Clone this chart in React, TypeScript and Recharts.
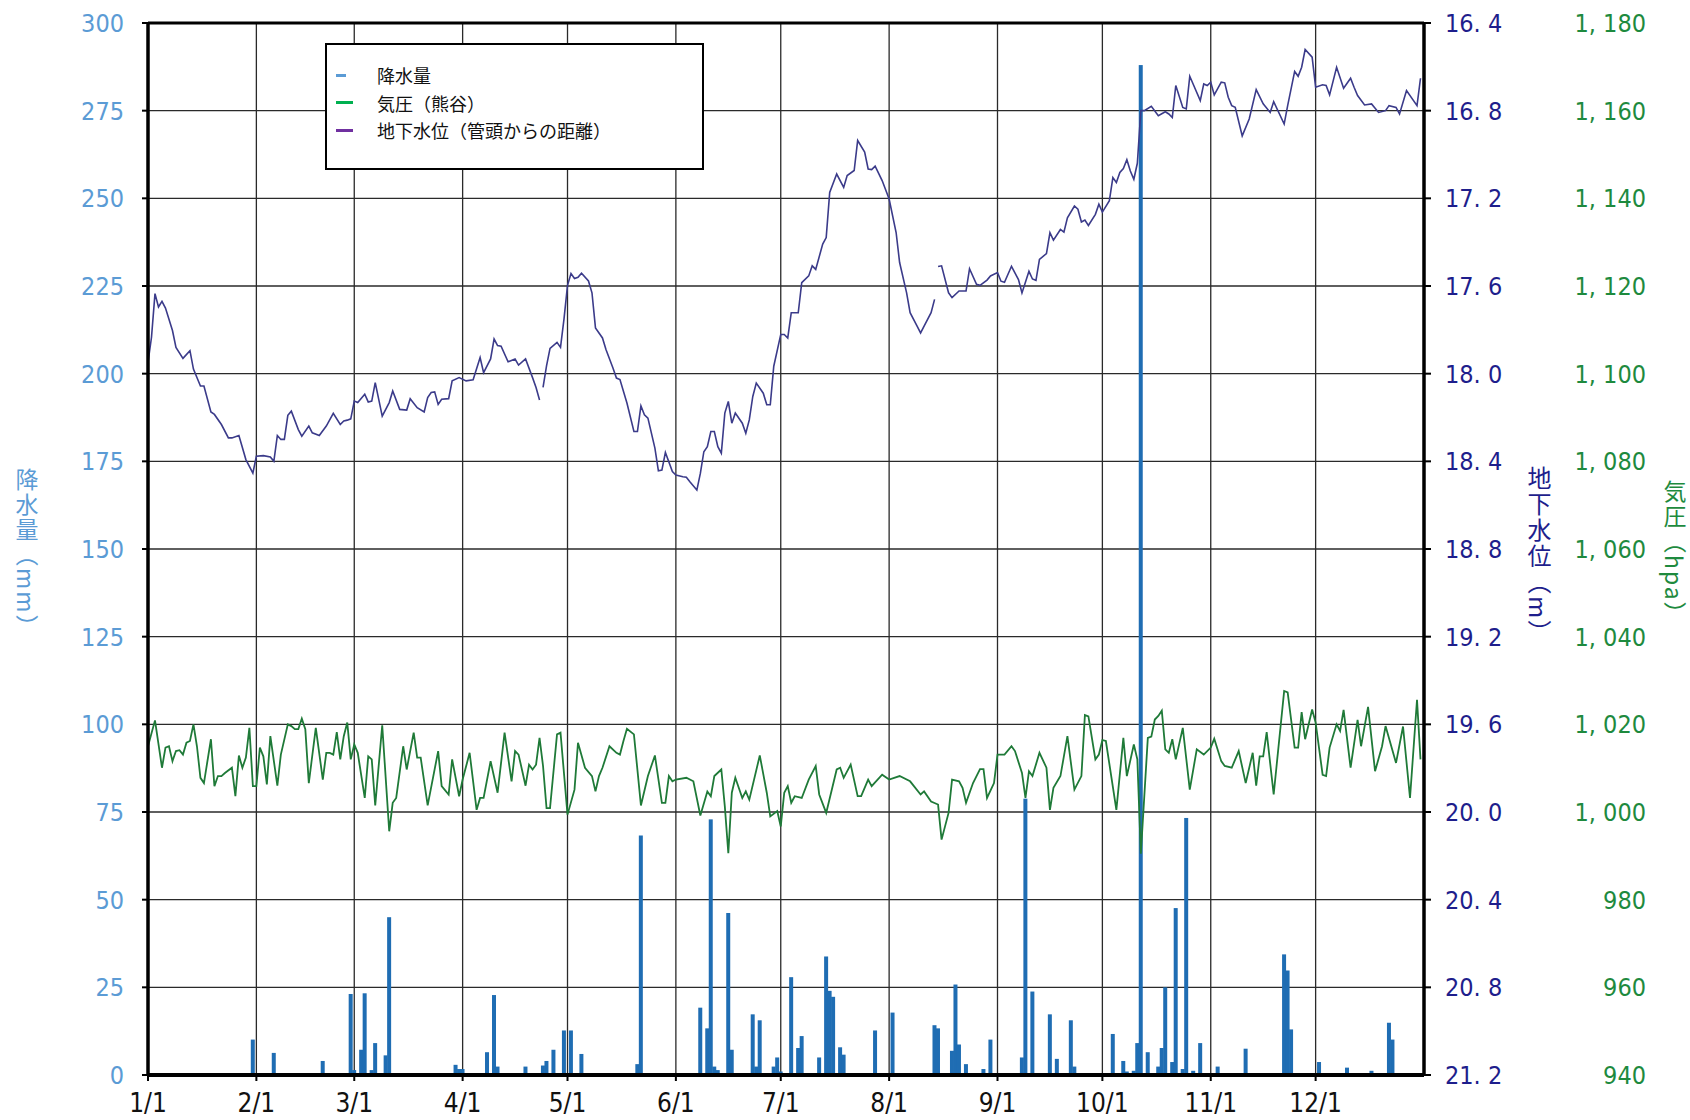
import React from "react";
import {
  ComposedChart,
  Bar,
  Line,
  XAxis,
  YAxis,
  CartesianGrid,
  ReferenceLine
} from "recharts";

// x axis = day of year (0 = 1/1)
const monthTicks = [0, 31, 59, 90, 120, 151, 181, 212, 243, 273, 304, 334];
const monthLabels = ["1/1", "2/1", "3/1", "4/1", "5/1", "6/1", "7/1", "8/1", "9/1", "10/1", "11/1", "12/1"];

const rainTicks = [0, 25, 50, 75, 100, 125, 150, 175, 200, 225, 250, 275, 300];
const levelTicks = [16.4, 16.8, 17.2, 17.6, 18.0, 18.4, 18.8, 19.2, 19.6, 20.0, 20.4, 20.8, 21.2];
const pressureTicks = [940, 960, 980, 1000, 1020, 1040, 1060, 1080, 1100, 1120, 1140, 1160, 1180];

// daily rainfall (day, mm), dry days left out
const rainfall: [number, number][] = [
  [30, 10.1], [36, 6.3], [39, 0.5], [50, 4.0], [58, 23.1], [59, 1.4], [61, 7.2], [62, 23.3],
  [64, 1.4], [65, 9.1], [68, 5.6], [69, 45.0], [88, 2.9], [89, 1.7], [90, 1.7], [97, 6.5],
  [99, 22.8], [100, 2.4], [104, 0.5], [108, 2.4], [113, 2.7], [114, 4.0], [116, 7.2], [119, 12.7],
  [121, 12.7], [124, 6.0], [140, 3.1], [141, 68.3], [158, 19.2], [160, 13.3], [161, 72.9], [162, 2.4],
  [163, 1.4], [166, 46.2], [167, 7.2], [173, 17.3], [174, 2.4], [175, 15.6], [179, 2.4], [180, 5.0],
  [181, 1.0], [184, 27.9], [186, 7.7], [187, 11.1], [192, 5.0], [194, 33.8], [195, 24.0], [196, 22.3],
  [198, 7.9], [199, 5.8], [202, 0.5], [208, 12.7], [213, 17.8], [225, 14.2], [226, 13.3], [230, 6.9],
  [231, 25.8], [232, 8.7], [234, 3.1], [239, 1.7], [241, 10.1], [250, 5.0], [251, 78.8], [253, 23.8],
  [258, 17.3], [260, 4.6], [264, 15.6], [265, 2.4], [276, 11.7], [279, 4.0], [280, 1.0], [282, 1.2],
  [283, 9.1], [284, 288.0], [286, 6.5], [289, 2.4], [290, 7.7], [291, 25.0], [293, 3.7], [294, 47.6],
  [296, 1.7], [297, 73.3], [299, 1.2], [301, 9.1], [306, 2.4], [314, 7.5], [325, 34.4], [326, 29.8],
  [327, 13.0], [335, 3.7], [343, 2.1], [350, 1.2], [355, 14.9], [356, 10.1], [361, 0.5]
];

// pressure at Kumagaya (day, hPa)
const pressure: [number, number][] = [
  [0, 1015.0], [2, 1020.9], [4, 1010.1], [5, 1014.7], [6, 1015.0], [7, 1011.6], [8, 1013.9], [9, 1014.1],
  [10, 1013.1], [11, 1015.8], [12, 1016.2], [13, 1020.0], [14, 1015.0], [15, 1007.8], [16, 1006.6], [18, 1016.6],
  [19, 1005.9], [20, 1008.2], [21, 1008.2], [22, 1008.9], [24, 1010.1], [25, 1003.6], [26, 1012.9], [27, 1010.1],
  [28, 1012.4], [29, 1019.2], [30, 1005.9], [31, 1005.9], [32, 1014.7], [33, 1012.7], [34, 1006.3], [35, 1017.3],
  [37, 1006.0], [38, 1013.1], [40, 1020.0], [41, 1019.6], [42, 1018.9], [43, 1018.9], [44, 1021.3], [45, 1018.9],
  [46, 1006.6], [48, 1019.2], [50, 1007.4], [51, 1013.5], [52, 1013.5], [53, 1013.1], [54, 1018.2], [55, 1012.0],
  [56, 1017.3], [57, 1020.4], [58, 1012.0], [59, 1015.4], [60, 1013.5], [62, 1003.2], [63, 1012.7], [64, 1012.0],
  [65, 1001.5], [67, 1019.8], [69, 995.6], [70, 1002.1], [71, 1003.2], [73, 1015.0], [74, 1009.7], [76, 1018.1],
  [77, 1012.4], [78, 1012.4], [80, 1001.5], [83, 1013.9], [84, 1005.9], [86, 1004.0], [87, 1012.0], [89, 1003.6],
  [90, 1007.4], [92, 1013.5], [94, 1000.5], [95, 1003.2], [96, 1003.2], [98, 1011.6], [100, 1004.4], [102, 1018.1],
  [104, 1007.0], [105, 1013.9], [106, 1013.1], [108, 1006.0], [109, 1010.8], [110, 1009.7], [111, 1010.8], [112, 1016.9],
  [113, 1010.5], [114, 1000.9], [115, 1000.9], [117, 1017.7], [118, 1018.1], [120, 999.4], [122, 1005.1], [123, 1015.8],
  [125, 1010.1], [127, 1008.2], [128, 1004.7], [129, 1008.2], [130, 1010.1], [132, 1015.0], [134, 1013.5], [135, 1013.1],
  [136, 1016.2], [137, 1019.0], [139, 1017.7], [141, 1001.5], [143, 1008.2], [145, 1012.9], [147, 1002.1], [148, 1002.1],
  [149, 1008.2], [150, 1007.0], [151, 1007.4], [154, 1007.8], [156, 1007.0], [158, 999.2], [160, 1004.7], [161, 1003.6],
  [162, 1008.2], [164, 1009.7], [165, 1001.3], [166, 990.6], [167, 1004.4], [168, 1007.8], [170, 1003.2], [171, 1004.7],
  [172, 1002.8], [175, 1012.9], [177, 1004.4], [178, 999.0], [180, 1000.2], [181, 996.7], [182, 1004.4], [183, 1005.9],
  [184, 1002.1], [185, 1003.6], [187, 1003.2], [189, 1007.4], [191, 1010.5], [192, 1004.0], [194, 999.8], [197, 1009.7],
  [198, 1010.1], [199, 1007.8], [201, 1010.8], [203, 1003.6], [204, 1003.6], [206, 1007.4], [207, 1005.9], [210, 1008.5],
  [212, 1007.4], [215, 1008.2], [218, 1007.0], [221, 1004.0], [222, 1004.7], [224, 1002.4], [226, 1001.7], [227, 993.7],
  [229, 999.8], [230, 1007.4], [232, 1007.0], [233, 1005.5], [234, 1002.1], [236, 1006.6], [238, 1009.8], [239, 1009.8],
  [240, 1003.2], [242, 1006.6], [243, 1013.1], [245, 1013.1], [247, 1015.0], [248, 1013.9], [250, 1008.9], [251, 1003.2],
  [252, 1009.3], [253, 1008.2], [255, 1013.5], [257, 1010.1], [258, 1000.5], [259, 1005.5], [261, 1008.2], [263, 1017.3],
  [265, 1005.1], [267, 1008.2], [268, 1022.1], [269, 1021.8], [271, 1012.0], [272, 1013.1], [273, 1016.4], [274, 1016.2],
  [277, 1000.5], [279, 1016.9], [280, 1008.2], [282, 1015.4], [283, 1012.0], [284, 990.5], [286, 1016.9], [287, 1017.2],
  [288, 1021.1], [289, 1021.9], [290, 1023.1], [291, 1014.3], [292, 1013.5], [293, 1016.6], [294, 1012.0], [296, 1019.2],
  [298, 1005.1], [300, 1014.3], [302, 1013.1], [304, 1014.7], [305, 1016.7], [307, 1011.6], [308, 1010.5], [310, 1010.1],
  [312, 1013.9], [314, 1006.6], [316, 1013.5], [317, 1006.0], [318, 1012.7], [319, 1012.7], [320, 1018.2], [322, 1004.0],
  [325, 1027.6], [326, 1027.3], [328, 1014.7], [329, 1014.7], [330, 1022.8], [331, 1016.6], [333, 1023.4], [334, 1020.4],
  [336, 1008.5], [337, 1008.2], [338, 1014.7], [340, 1020.0], [341, 1018.5], [342, 1023.3], [344, 1010.1], [346, 1021.0],
  [347, 1015.0], [349, 1024.0], [351, 1009.3], [353, 1015.0], [354, 1019.6], [357, 1011.2], [359, 1019.5], [361, 1003.2],
  [363, 1025.6], [364, 1012.0]
];

// groundwater depth below well head (day, m); null = missing record
const groundwater: [number, number | null][] = [
  [0, 17.949], [1, 17.834], [2, 17.635], [3, 17.696], [4, 17.670], [5, 17.701], [7, 17.803], [8, 17.880],
  [10, 17.930], [12, 17.895], [13, 17.979], [15, 18.056], [16, 18.056], [18, 18.175], [19, 18.186], [21, 18.232],
  [23, 18.293], [24, 18.293], [26, 18.282], [28, 18.392], [30, 18.454], [31, 18.377], [33, 18.374], [35, 18.380],
  [36, 18.400], [37, 18.282], [38, 18.300], [39, 18.300], [40, 18.190], [41, 18.171], [43, 18.255], [44, 18.285],
  [46, 18.239], [47, 18.270], [49, 18.282], [51, 18.239], [53, 18.181], [55, 18.232], [56, 18.216], [57, 18.212],
  [58, 18.206], [59, 18.125], [60, 18.132], [62, 18.094], [63, 18.129], [64, 18.125], [65, 18.041], [67, 18.194],
  [69, 18.132], [70, 18.079], [72, 18.163], [74, 18.166], [75, 18.114], [77, 18.155], [79, 18.175], [80, 18.109],
  [81, 18.086], [82, 18.083], [83, 18.140], [84, 18.117], [86, 18.114], [87, 18.033], [89, 18.018], [91, 18.033],
  [93, 18.028], [95, 17.926], [96, 17.995], [98, 17.933], [99, 17.842], [100, 17.872], [101, 17.875], [103, 17.946],
  [105, 17.933], [106, 17.961], [108, 17.933], [110, 18.018], [111, 18.063], [112, 18.120], [112.5, null], [113, 18.063],
  [114, 17.964], [115, 17.885], [117, 17.857], [118, 17.880], [119, 17.750], [120, 17.597], [121, 17.543], [122, 17.566],
  [123, 17.560], [124, 17.542], [126, 17.577], [127, 17.631], [128, 17.791], [130, 17.837], [131, 17.890], [133, 17.974],
  [134, 18.020], [135, 18.027], [137, 18.134], [139, 18.264], [140, 18.264], [141, 18.147], [142, 18.188], [143, 18.203],
  [145, 18.340], [146, 18.443], [147, 18.440], [148, 18.360], [150, 18.447], [151, 18.463], [153, 18.470], [154, 18.473],
  [155, 18.493], [157, 18.531], [158, 18.455], [159, 18.356], [160, 18.333], [161, 18.264], [162, 18.264], [163, 18.333],
  [164, 18.363], [165, 18.180], [166, 18.127], [167, 18.226], [168, 18.180], [170, 18.226], [171, 18.272], [172, 18.211],
  [173, 18.104], [174, 18.043], [176, 18.089], [177, 18.142], [178, 18.142], [179, 17.966], [181, 17.821], [182, 17.821],
  [183, 17.837], [184, 17.722], [186, 17.722], [187, 17.585], [189, 17.554], [190, 17.508], [191, 17.524], [193, 17.409],
  [194, 17.379], [195, 17.173], [197, 17.089], [199, 17.150], [200, 17.096], [202, 17.073], [203, 16.936], [205, 16.989],
  [206, 17.066], [207, 17.069], [208, 17.053], [210, 17.119], [212, 17.203], [214, 17.356], [215, 17.493], [217, 17.631],
  [218, 17.722], [220, 17.783], [221, 17.814], [222, 17.783], [224, 17.722], [225, 17.661], [225.5, null], [226, 17.511],
  [227, 17.508], [229, 17.631], [230, 17.653], [232, 17.623], [234, 17.623], [235, 17.521], [237, 17.592], [238, 17.597],
  [240, 17.573], [241, 17.554], [243, 17.539], [244, 17.578], [245, 17.583], [247, 17.510], [249, 17.571], [250, 17.632],
  [252, 17.533], [253, 17.568], [254, 17.574], [255, 17.479], [257, 17.452], [258, 17.357], [259, 17.391], [261, 17.342],
  [262, 17.354], [263, 17.289], [265, 17.235], [266, 17.250], [267, 17.308], [268, 17.299], [269, 17.324], [271, 17.273],
  [272, 17.227], [273, 17.263], [275, 17.211], [276, 17.105], [277, 17.128], [278, 17.082], [279, 17.064], [280, 17.024],
  [281, 17.075], [282, 17.113], [283, 17.040], [284, 16.800], [285, 16.800], [287, 16.780], [289, 16.823], [291, 16.805],
  [292, 16.815], [293, 16.831], [294, 16.685], [296, 16.785], [297, 16.792], [298, 16.643], [301, 16.754], [302, 16.678],
  [303, 16.685], [304, 16.670], [305, 16.728], [307, 16.670], [308, 16.673], [309, 16.739], [310, 16.777], [311, 16.785],
  [313, 16.915], [315, 16.838], [317, 16.704], [319, 16.769], [321, 16.808], [322, 16.759], [325, 16.861], [326, 16.777],
  [328, 16.621], [329, 16.643], [330, 16.602], [331, 16.521], [333, 16.556], [334, 16.693], [336, 16.682], [337, 16.685],
  [338, 16.728], [340, 16.602], [342, 16.698], [344, 16.652], [345, 16.693], [346, 16.731], [348, 16.774], [350, 16.769],
  [352, 16.808], [354, 16.800], [355, 16.777], [357, 16.785], [358, 16.815], [360, 16.708], [363, 16.777], [364, 16.652]
];

const RAIN_COLOR = "#1f6db3";
const PRESSURE_COLOR = "#1f7a38";
const LEVEL_COLOR = "#3b3b8a";
const NUM_FONT = "'Liberation Sans Narrow', 'DejaVu Sans Condensed', 'Liberation Sans', sans-serif";
const JP_FONT = "'Noto Sans CJK JP', sans-serif";

const fmtLevel = (v: number) => v.toFixed(1).replace(".", ". ");
const fmtPressure = (v: number) => (v >= 1000 ? `1, ${String(v).slice(1)}` : String(v));

const PressureTick = (props: any) => {
  const { x, y, payload } = props;
  return (
    <text x={x + 72} y={y} dy="0.36em" textAnchor="end" fill="#1e8a3e" fontSize={25} fontFamily={NUM_FONT}>
      {fmtPressure(payload.value)}
    </text>
  );
};

// rain bars: fixed 4px wide, centred on the day the library places them at
const RainBar = (props: any) => {
  const { x, y, width, height } = props;
  if (!height || height <= 0) return null;
  const cx = x + width / 2;
  return <rect x={cx - 2} y={y} width={4} height={height} fill={RAIN_COLOR} />;
};

const rainData = rainfall.map(([day, mm]) => ({ day, rain: mm }));
const pressureData = pressure.map(([day, hpa]) => ({ day, pres: hpa }));
const levelData = groundwater.map(([day, m]) => ({ day, level: m }));

const legendItems = [
  { label: "降水量", color: "#5b9bd5", w: 10 },
  { label: "気圧（熊谷）", color: "#00b050", w: 17 },
  { label: "地下水位（管頭からの距離）", color: "#7030a0", w: 17 }
];

const vTitle = (text: string, color: string, cx: number, top: number, size: number) => (
  <div
    style={{
      position: "absolute",
      left: cx - 20,
      top,
      width: 40,
      display: "flex",
      justifyContent: "center",
      writingMode: "vertical-rl",
      color,
      fontSize: size,
      fontFamily: JP_FONT,
      letterSpacing: 2
    }}
  >
    {text}
  </div>
);

export default function App() {
  return (
    <div style={{ position: "absolute", left: 0, top: 0, width: 1690, height: 1120, background: "#fff" }}>
      <ComposedChart
        width={1690}
        height={1120}
        data={rainData}
        barCategoryGap={0}
        barGap={0}
        margin={{ top: 23, right: 0, bottom: 0, left: 0 }}
      >
        <CartesianGrid yAxisId="rain" stroke="#2a2a2a" strokeWidth={1.3} />
        <XAxis
          dataKey="day"
          type="number"
          domain={[0, 365]}
          ticks={monthTicks}
          tickFormatter={(v: number) => monthLabels[monthTicks.indexOf(v)]}
          height={45}
          axisLine={{ stroke: "#000", strokeWidth: 4 }}
          tickLine={{ stroke: "#000", strokeWidth: 2 }}
          tickSize={6}
          tickMargin={13}
          tick={{ fill: "#111", fontSize: 26, fontFamily: NUM_FONT }}
          interval={0}
        />
        <YAxis
          yAxisId="rain"
          orientation="left"
          domain={[0, 300]}
          ticks={rainTicks}
          width={148}
          interval={0}
          axisLine={{ stroke: "#000", strokeWidth: 3.5 }}
          tickLine={{ stroke: "#000", strokeWidth: 2 }}
          tickSize={6}
          tickMargin={18}
          tick={{ fill: "#5b9bd5", fontSize: 25, fontFamily: NUM_FONT }}
        />
        <YAxis
          yAxisId="level"
          orientation="right"
          reversed
          domain={[16.4, 21.2]}
          ticks={levelTicks}
          width={150}
          interval={0}
          axisLine={{ stroke: "#000", strokeWidth: 3.5 }}
          tickLine={{ stroke: "#000", strokeWidth: 2 }}
          tickSize={7}
          tickMargin={14}
          tickFormatter={fmtLevel}
          tick={{ fill: "#1e1e8c", fontSize: 25, fontFamily: NUM_FONT }}
        />
        <YAxis
          yAxisId="pres"
          orientation="right"
          domain={[940, 1180]}
          ticks={pressureTicks}
          width={116}
          interval={0}
          axisLine={false}
          tickLine={false}
          tickSize={0}
          tickMargin={0}
          tick={<PressureTick />}
        />
        <ReferenceLine yAxisId="rain" y={300} stroke="#000" strokeWidth={3} />
        <Line
          yAxisId="pres"
          data={pressureData}
          dataKey="pres"
          type="linear"
          stroke={PRESSURE_COLOR}
          strokeWidth={1.8}
          dot={false}
          activeDot={false}
          isAnimationActive={false}
        />
        <Line
          yAxisId="level"
          data={levelData}
          dataKey="level"
          type="linear"
          stroke={LEVEL_COLOR}
          strokeWidth={1.6}
          dot={false}
          activeDot={false}
          connectNulls={false}
          isAnimationActive={false}
        />
        <Bar
          yAxisId="rain"
          dataKey="rain"
          fill={RAIN_COLOR}
          barSize={4}
          shape={<RainBar />}
          isAnimationActive={false}
        />
      </ComposedChart>

      {/* legend */}
      <div
        style={{
          position: "absolute",
          left: 325,
          top: 43,
          width: 379,
          height: 127,
          boxSizing: "border-box",
          border: "2px solid #000",
          background: "#fff",
          fontFamily: JP_FONT,
          fontSize: 18,
          color: "#111"
        }}
      >
        {legendItems.map((item, i) => (
          <div
            key={item.label}
            style={{ position: "absolute", left: 9, top: 17 + i * 27.5, height: 26, display: "flex", alignItems: "center" }}
          >
            <span style={{ display: "inline-block", width: item.w, height: 3, background: item.color }} />
            <span style={{ marginLeft: 41 - item.w }}>{item.label}</span>
          </div>
        ))}
      </div>

      {vTitle("降水量（mm）", "#5b9bd5", 24, 468, 23)}
      {vTitle("地下水位（m）", "#1e1e8c", 1537, 466, 24)}
      {vTitle("気圧（hpa）", "#1e8a3e", 1672, 480, 23)}
    </div>
  );
}
